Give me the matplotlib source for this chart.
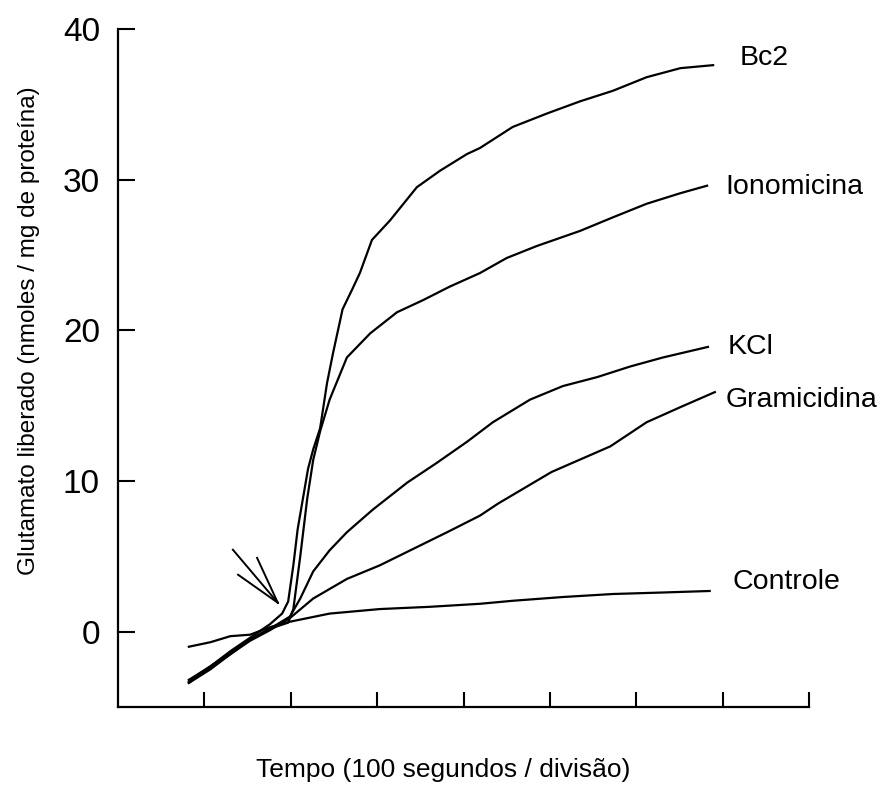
import matplotlib
matplotlib.use("Agg")
import matplotlib.pyplot as plt

plt.rcParams['font.family'] = ['Liberation Sans', 'DejaVu Sans']

# Time in divisions (100 s / division); glutamate released (nmol / mg protein)
bc2_x = [0.82, 1.07, 1.30, 1.53, 1.76, 1.90, 1.97, 2.03, 2.08, 2.14, 2.20, 2.26, 2.34,
         2.42, 2.49, 2.60, 2.71, 2.80, 2.94, 3.15, 3.46, 3.73, 4.04, 4.19, 4.57, 4.97,
         5.35, 5.73, 6.12, 6.51, 6.89]
bc2_y = [-3.3, -2.3, -1.3, -0.4, 0.5, 1.2, 2.0, 4.4, 6.8, 8.8, 10.8, 12.1, 13.5,
         16.5, 18.5, 21.4, 22.7, 23.8, 26.0, 27.3, 29.5, 30.6, 31.7, 32.1, 33.5, 34.4,
         35.2, 35.9, 36.8, 37.4, 37.6]

iono_x = [0.82, 1.07, 1.30, 1.53, 1.76, 1.97, 2.03, 2.11, 2.19, 2.26, 2.34, 2.45, 2.65,
          2.92, 3.23, 3.53, 3.84, 4.19, 4.50, 4.85, 5.35, 5.73, 6.12, 6.51, 6.82]
iono_y = [-3.4, -2.4, -1.5, -0.5, 0.2, 0.6, 1.5, 5.0, 8.8, 11.4, 13.3, 15.4, 18.2,
          19.8, 21.2, 22.0, 22.9, 23.8, 24.8, 25.6, 26.6, 27.5, 28.4, 29.1, 29.6]

kcl_x = [0.82, 1.07, 1.30, 1.53, 1.76, 1.99, 2.11, 2.26, 2.45, 2.65, 2.95, 3.35, 3.69,
         4.04, 4.34, 4.77, 5.15, 5.55, 5.93, 6.31, 6.83]
kcl_y = [-3.2, -2.3, -1.4, -0.5, 0.2, 1.0, 2.2, 4.0, 5.4, 6.6, 8.1, 9.9, 11.2,
         12.6, 13.9, 15.4, 16.3, 16.9, 17.6, 18.2, 18.9]

gram_x = [0.82, 1.07, 1.30, 1.53, 1.76, 1.99, 2.26, 2.65, 3.03, 3.42, 3.81, 4.19, 4.40,
          5.02, 5.70, 6.12, 6.51, 6.91]
gram_y = [-3.4, -2.5, -1.5, -0.6, 0.1, 0.9, 2.2, 3.5, 4.4, 5.5, 6.6, 7.7, 8.5,
          10.6, 12.3, 13.9, 14.9, 15.9]

ctrl_x = [0.82, 1.07, 1.30, 1.53, 1.76, 1.99, 2.45, 3.03, 3.61, 4.19, 4.57, 5.15, 5.73,
          6.31, 6.85]
ctrl_y = [-1.0, -0.7, -0.3, -0.2, 0.3, 0.66, 1.2, 1.5, 1.65, 1.85, 2.05, 2.3, 2.5,
          2.6, 2.7]

series = [(bc2_x, bc2_y), (iono_x, iono_y), (kcl_x, kcl_y), (gram_x, gram_y), (ctrl_x, ctrl_y)]

labels = ["Bc2", "Ionomicina", "KCl", "Gramicidina", "Controle"]
label_x = [7.20, 7.03, 7.06, 7.03, 7.12]
label_y = [38.1, 29.5, 18.9, 15.4, 3.3]

# arrow marking the addition (three strokes meeting at the tip)
arrow_tip = (1.85, 1.92)
arrow_tails = [(1.33, 5.44), (1.61, 4.9), (1.39, 3.78)]

x_ticks = [1, 2, 3, 4, 5, 6, 7, 8]
y_ticks = [0, 10, 20, 30, 40]

fig = plt.figure(figsize=(8.85, 7.85), dpi=100)
ax = fig.add_axes([118/885, (785-707)/785, (809-118)/885, (707-29)/785])

for xs, ys in series:
    ax.plot(xs, ys, color='black', lw=1.6, solid_joinstyle='round')

for tx, ty in arrow_tails:
    ax.plot([tx, arrow_tip[0]], [ty, arrow_tip[1]], color='black', lw=1.4)

for lab, lx, ly in zip(labels, label_x, label_y):
    ax.text(lx, ly, lab, fontsize=20.5, va='center', ha='left')

ax.set_xlim(0, 8)
ax.set_ylim(-5, 40)
ax.set_xticks(x_ticks)
ax.set_xticklabels([])
ax.set_yticks(y_ticks)
ax.tick_params(axis='x', direction='in', length=11, width=1.5)
ax.tick_params(axis='y', direction='in', length=12, width=1.5, labelsize=24, pad=13)
for s in ['top', 'right']:
    ax.spines[s].set_visible(False)
for s in ['left', 'bottom']:
    ax.spines[s].set_linewidth(1.6)

fig.text(29/885, 1 - 331/785, "Glutamato liberado (nmoles / mg de proteína)",
         fontsize=17.5, rotation=90, ha='center', va='center')
fig.text(443/885, 1 - 770/785, "Tempo (100 segundos / divisão)", fontsize=19,
         ha='center', va='center')

fig.savefig("out.png", dpi=100)
